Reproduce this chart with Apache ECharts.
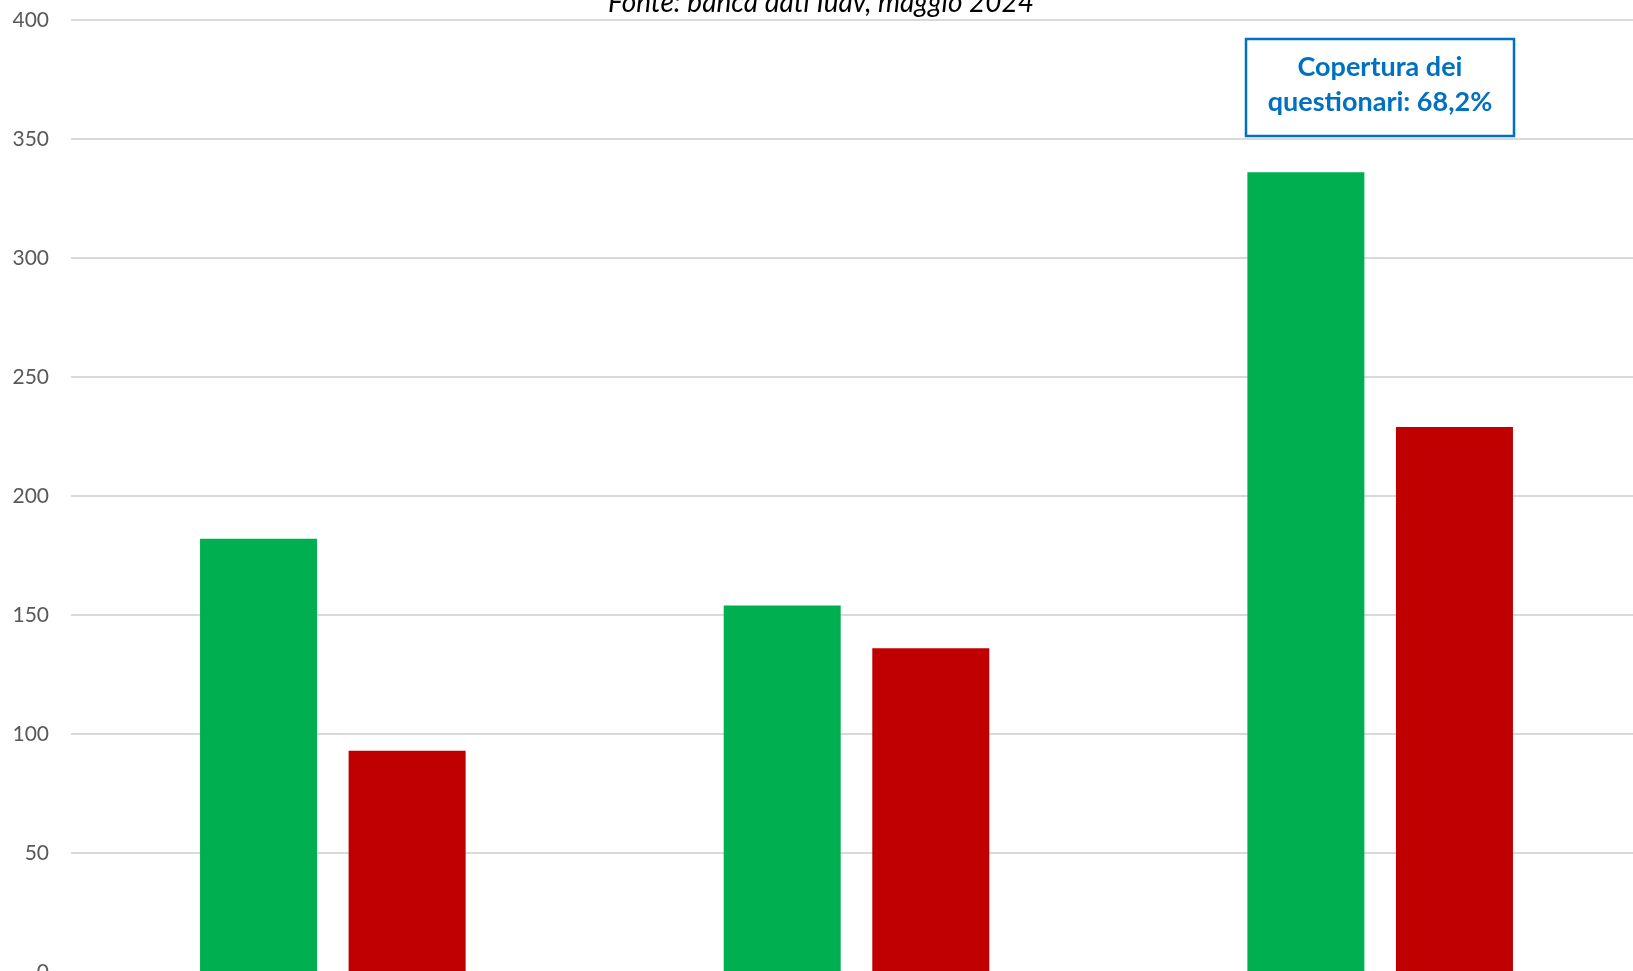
<!DOCTYPE html>
<html>
<head>
<meta charset="utf-8">
<script src="https://cdn.jsdelivr.net/npm/echarts@6/dist/echarts.min.js"></script>
<style>html,body{margin:0;padding:0;background:#fff}#c{width:1633px;height:971px}</style>
</head>
<body>
<div id="c"></div>
<script>
const categories = ['A', 'B', 'C'];
const seriesGreen = [182, 154, 336];
const seriesRed = [93, 136, 229];
const subtitleText = 'Fonte: banca dati Iuav, maggio 2024';
const noteLines = ['Copertura dei', 'questionari: 68,2%'];

const chart = echarts.init(document.getElementById('c'));
chart.setOption({
  animation: false,
  backgroundColor: '#ffffff',
  grid: { left: 71, top: 20, width: 1571, height: 952, outerBoundsMode: 'none', containLabel: false },
  xAxis: {
    type: 'category',
    data: categories,
    axisLine: { lineStyle: { color: '#d9d9d9', width: 1.5 } },
    axisTick: { show: false },
    axisLabel: { show: false }
  },
  yAxis: {
    type: 'value',
    min: 0, max: 400, interval: 50,
    axisLine: { show: false },
    axisTick: { show: false },
    axisLabel: { color: '#595959', fontFamily: 'Lato', fontSize: 21, margin: 22 },
    splitLine: { lineStyle: { color: '#d9d9d9', width: 2 } }
  },
  series: [
    { type: 'bar', data: seriesGreen, barWidth: 117, barGap: '27%', itemStyle: { color: '#00b050' } },
    { type: 'bar', data: seriesRed, barWidth: 117, barGap: '27%', itemStyle: { color: '#c00000' } }
  ],
  graphic: [
    { type: 'text', x: 821, y: 17, style: { text: subtitleText, fill: '#000', font: 'italic 28px Lato', align: 'center', verticalAlign: 'bottom' } },
    { type: 'rect', shape: { x: 1246, y: 39, width: 268, height: 97 }, style: { fill: '#fff', stroke: '#0070c0', lineWidth: 2.5 } },
    { type: 'text', x: 1380, y: 85, style: { text: noteLines.join('\n'), fill: '#0070c0', font: 'bold 27px Lato', align: 'center', verticalAlign: 'middle', lineHeight: 35 } }
  ]
});
</script>
</body>
</html>
